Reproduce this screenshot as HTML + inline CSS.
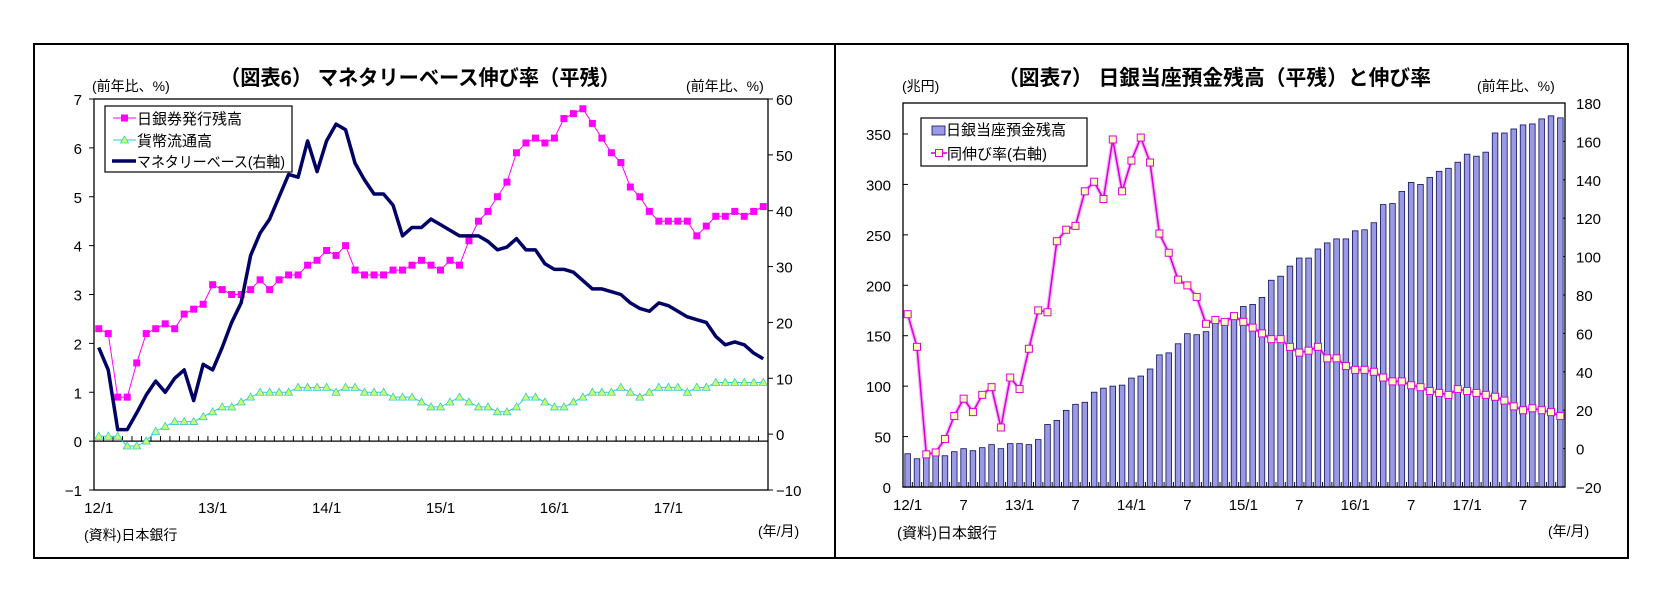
<!DOCTYPE html>
<html><head><meta charset="utf-8"><style>
html,body{margin:0;padding:0;background:#fff;}
svg{display:block;font-family:"Liberation Sans","Noto Sans CJK JP",sans-serif;}
</style></head><body>
<svg id="s" width="1668" height="594" viewBox="0 0 1668 594" xmlns="http://www.w3.org/2000/svg">
<rect x="0" y="0" width="1668" height="594" fill="#fff"/>
<rect x="34" y="44" width="1594" height="514" fill="none" stroke="#000" stroke-width="2"/>
<line x1="835" y1="44" x2="835" y2="558" stroke="#000" stroke-width="2"/>
<g id="c1"></g>
<g id="c2"></g>
</svg>
<script>
// ---- Chart 6 data ----
const months = 71;
const c1Banknotes = [2.3,2.2,0.9,0.9,1.6,2.2,2.3,2.4,2.3,2.6,2.7,2.8,
 3.2,3.1,3.0,3.0,3.1,3.3,3.1,3.3,3.4,3.4,3.6,3.7,
 3.9,3.8,4.0,3.5,3.4,3.4,3.4,3.5,3.5,3.6,3.7,3.6,
 3.5,3.7,3.6,4.1,4.5,4.7,5.0,5.3,5.9,6.1,6.2,6.1,
 6.2,6.6,6.7,6.8,6.5,6.2,5.9,5.7,5.2,5.0,4.7,4.5,
 4.5,4.5,4.5,4.2,4.4,4.6,4.6,4.7,4.6,4.7,4.8];
const c1Coins = [0.1,0.1,0.1,-0.1,-0.1,0.0,0.2,0.3,0.4,0.4,0.4,0.5,
 0.6,0.7,0.7,0.8,0.9,1.0,1.0,1.0,1.0,1.1,1.1,1.1,
 1.1,1.0,1.1,1.1,1.0,1.0,1.0,0.9,0.9,0.9,0.8,0.7,
 0.7,0.8,0.9,0.8,0.7,0.7,0.6,0.6,0.7,0.9,0.9,0.8,
 0.7,0.7,0.8,0.9,1.0,1.0,1.0,1.1,1.0,0.9,1.0,1.1,
 1.1,1.1,1.0,1.1,1.1,1.2,1.2,1.2,1.2,1.2,1.2];
const c1Base = [15.5,11.5,0.8,0.8,3.8,7.0,9.5,7.5,10.0,11.5,6.0,12.5,
 11.5,15.5,20.0,23.5,32.0,36.0,38.5,42.5,46.5,46.0,52.5,47.0,
 52.5,55.5,54.5,48.5,45.5,43.0,43.0,41.0,35.5,37.0,37.0,38.5,
 37.5,36.5,35.5,35.5,35.5,34.5,33.0,33.5,35.0,33.0,33.0,30.5,
 29.5,29.5,29.0,27.5,26.0,26.0,25.5,25.0,23.5,22.5,22.0,23.5,
 23.0,22.0,21.0,20.5,20.0,17.5,16.0,16.5,16.0,14.5,13.5];
const c1LeftTicks = [-1,0,1,2,3,4,5,6,7];
const c1RightTicks = [-10,0,10,20,30,40,50,60];
const c1XLabels = ["12/1","13/1","14/1","15/1","16/1","17/1"];
// ---- Chart 7 data ----
const c2Balance = [33,28,35,32,31,35,38,36,39,42,38,43,
 43,42,47,62,66,76,82,84,94,98,100,101,
 108,110,117,131,133,142,152,151,154,165,167,168,
 179,181,188,205,209,219,227,227,236,242,246,246,
 254,255,262,280,281,293,302,300,307,313,316,322,
 330,328,332,351,351,355,359,360,365,368,366];
const c2Growth = [70,53,-3,-2,5,17,26,19,28,32,11,37,
 31,52,72,71,108,114,116,134,139,130,161,134,
 150,162,149,112,102,88,85,79,65,67,66,69,
 66,63,60,57,57,53,50,51,53,47,47,43,
 41,41,40,37,35,35,33,32,30,29,28,31,
 30,29,28,27,25,22,20,21,20,19,17];
const c2LeftTicks = [0,50,100,150,200,250,300,350];
const c2RightTicks = [-20,0,20,40,60,80,100,120,140,160,180];
const c2XLabels = ["12/1","7","13/1","7","14/1","7","15/1","7","16/1","7","17/1","7"];

const NS="http://www.w3.org/2000/svg";
function mk(parent,tag,attrs,text){const e=document.createElementNS(NS,tag);for(const k in attrs)e.setAttribute(k,attrs[k]);if(text!==undefined)e.textContent=text;parent.appendChild(e);return e;}

// ===== Chart 1 =====
const g1=document.getElementById('c1');
const p1={l:94,r:768,t:99,b:490};
const step1=(p1.r-p1.l)/months;
const x1=i=>p1.l+step1*(i+0.5);
const yL1=v=>p1.b-(v+1)/8*(p1.b-p1.t);
const yR1=v=>p1.b-(v+10)/70*(p1.b-p1.t);
let t=mk(g1,'text',{x:220,y:85,'font-size':21,'font-weight':'bold',textLength:400,lengthAdjust:'spacingAndGlyphs'},'（図表6） マネタリーベース伸び率（平残）');

t=mk(g1,'text',{x:92,y:91,'font-size':14},'(前年比、%)');

t=mk(g1,'text',{x:686,y:91,'font-size':14},'(前年比、%)');

mk(g1,'rect',{x:p1.l,y:p1.t,width:p1.r-p1.l,height:p1.b-p1.t,fill:'#fff',stroke:'#000','stroke-width':1.3});
c1LeftTicks.forEach(v=>{const y=yL1(v);mk(g1,'line',{x1:p1.l-5,x2:p1.l,y1:y,y2:y,stroke:'#000'});
 const e=mk(g1,'text',{x:p1.l-12,y:y+6,'font-size':15,'text-anchor':'end'},String(v).replace('-','−'));
 });
c1RightTicks.forEach(v=>{const y=yR1(v);mk(g1,'line',{x1:p1.r,x2:p1.r+5,y1:y,y2:y,stroke:'#000'});
 const e=mk(g1,'text',{x:p1.r+8,y:y+6,'font-size':15},String(v).replace('-','−'));
 });
const z1=yL1(0);
mk(g1,'line',{x1:p1.l,x2:p1.r,y1:z1,y2:z1,stroke:'#000','stroke-width':1.3});
for(let i=1;i<months;i++){const x=p1.l+step1*i;mk(g1,'line',{x1:x,x2:x,y1:z1-5,y2:z1,stroke:'#000'});}
c1XLabels.forEach((s,k)=>{const e=mk(g1,'text',{x:x1(k*12),y:513,'font-size':15,'text-anchor':'middle'},s);
 });
// series
const ptsP=c1Banknotes.map((v,i)=>x1(i)+','+yL1(v)).join(' ');
let pl=mk(g1,'polyline',{points:ptsP,fill:'none',stroke:'#ff00ff','stroke-width':1});

c1Banknotes.forEach((v,i)=>{const r=mk(g1,'rect',{x:x1(i)-3.5,y:yL1(v)-3.5,width:7,height:7,fill:'#ff00ff'});
 });
pl=mk(g1,'polyline',{points:c1Coins.map((v,i)=>x1(i)+','+yL1(v)).join(' '),fill:'none',stroke:'#33cccc','stroke-width':1});

c1Coins.forEach((v,i)=>{const x=x1(i),y=yL1(v);const r=mk(g1,'polygon',{points:`${x},${y-4} ${x-4},${y+3} ${x+4},${y+3}`,fill:'#ccff66',stroke:'#33cccc','stroke-width':0.8});
 });
pl=mk(g1,'polyline',{points:c1Base.map((v,i)=>x1(i)+','+yR1(v)).join(' '),fill:'none',stroke:'#000066','stroke-width':3.5,'stroke-linejoin':'round'});

// legend
const lg1=mk(g1,'g',{});

mk(lg1,'rect',{x:105,y:106,width:187,height:66,fill:'#fff',stroke:'#000','stroke-width':1.2});
mk(lg1,'line',{x1:113,x2:136,y1:118,y2:118,stroke:'#ff00ff'});mk(lg1,'rect',{x:121,y:114.5,width:7,height:7,fill:'#ff00ff'});
mk(lg1,'text',{x:137,y:124,'font-size':15},'日銀券発行残高');
mk(lg1,'line',{x1:113,x2:136,y1:140,y2:140,stroke:'#33cccc'});mk(lg1,'polygon',{points:'124.5,136 120.5,143 128.5,143',fill:'#ccff66',stroke:'#33cccc','stroke-width':0.8});
mk(lg1,'text',{x:137,y:146,'font-size':15},'貨幣流通高');
mk(lg1,'line',{x1:112,x2:136,y1:161,y2:161,stroke:'#000066','stroke-width':3.5});
mk(lg1,'text',{x:137,y:167,'font-size':15,textLength:148,lengthAdjust:'spacingAndGlyphs'},'マネタリーベース(右軸)');
t=mk(g1,'text',{x:84,y:540,'font-size':14},'(資料)日本銀行');

t=mk(g1,'text',{x:758,y:536,'font-size':14},'(年/月)');


// ===== Chart 2 =====
const g2=document.getElementById('c2');
const p2={l:903,r:1565,t:103,b:487};
const step2=(p2.r-p2.l)/months;
const x2=i=>p2.l+step2*(i+0.5);
const lmax=350*(p2.b-p2.t)/(487-134);
const yL2=v=>p2.b-v/lmax*(p2.b-p2.t);
const yR2=v=>p2.b-(v+20)/200*(p2.b-p2.t);
t=mk(g2,'text',{x:998,y:85,'font-size':21,'font-weight':'bold',textLength:433,lengthAdjust:'spacingAndGlyphs'},'（図表7） 日銀当座預金残高（平残）と伸び率');

t=mk(g2,'text',{x:902,y:91,'font-size':14},'(兆円)');

t=mk(g2,'text',{x:1477,y:91,'font-size':14},'(前年比、%)');

mk(g2,'rect',{x:p2.l,y:p2.t,width:p2.r-p2.l,height:p2.b-p2.t,fill:'#fff',stroke:'#000','stroke-width':1.3});
c2LeftTicks.forEach(v=>{const y=yL2(v);mk(g2,'line',{x1:p2.l,x2:p2.l+5,y1:y,y2:y,stroke:'#000'});
 const e=mk(g2,'text',{x:p2.l-12,y:y+6,'font-size':15,'text-anchor':'end'},String(v));
 });
c2RightTicks.forEach(v=>{const y=yR2(v);mk(g2,'line',{x1:p2.r-5,x2:p2.r,y1:y,y2:y,stroke:'#000'});
 const e=mk(g2,'text',{x:p2.r+11,y:y+6,'font-size':15},String(v).replace('-','−'));
 });
const bw=5.6;
c2Balance.forEach((v,i)=>{const r=mk(g2,'rect',{x:x2(i)-bw/2,y:yL2(v),width:bw,height:p2.b-yL2(v),fill:'#9999e6',stroke:'#10105a','stroke-width':0.8});
 });
for(let i=1;i<months;i++){const x=p2.l+step2*i;mk(g2,'line',{x1:x,x2:x,y1:p2.b-5,y2:p2.b,stroke:'#000'});}
mk(g2,'line',{x1:p2.l,x2:p2.r,y1:p2.b,y2:p2.b,stroke:'#000','stroke-width':1.3});
c2XLabels.forEach((s,k)=>{const e=mk(g2,'text',{x:x2(k*6),y:510,'font-size':15,'text-anchor':'middle'},s);
 });
pl=mk(g2,'polyline',{points:c2Growth.map((v,i)=>x2(i)+','+yR2(v)).join(' '),fill:'none',stroke:'#ee77ee','stroke-width':4,opacity:0.5});
pl=mk(g2,'polyline',{points:c2Growth.map((v,i)=>x2(i)+','+yR2(v)).join(' '),fill:'none',stroke:'#dd00dd','stroke-width':1.6});

c2Growth.forEach((v,i)=>{const r=mk(g2,'rect',{x:x2(i)-3.5,y:yR2(v)-3.5,width:7,height:7,fill:'#ffffc0',stroke:'#dd00dd','stroke-width':1});
 });
const lg2=mk(g2,'g',{});

mk(lg2,'rect',{x:921,y:118,width:166,height:48,fill:'#fff',stroke:'#000','stroke-width':1.2});
mk(lg2,'rect',{x:932,y:126,width:13,height:9,fill:'#9999e6',stroke:'#10105a','stroke-width':0.8});
mk(lg2,'text',{x:946,y:135,'font-size':15},'日銀当座預金残高');
mk(lg2,'line',{x1:931,x2:947,y1:153,y2:153,stroke:'#dd00dd','stroke-width':1.6});
mk(lg2,'rect',{x:935.5,y:149.5,width:7,height:7,fill:'#ffffc0',stroke:'#dd00dd'});
mk(lg2,'text',{x:947,y:159,'font-size':15},'同伸び率(右軸)');
t=mk(g2,'text',{x:897,y:538,'font-size':15},'(資料)日本銀行');

t=mk(g2,'text',{x:1548,y:536,'font-size':14},'(年/月)');

</script>
</body></html>
